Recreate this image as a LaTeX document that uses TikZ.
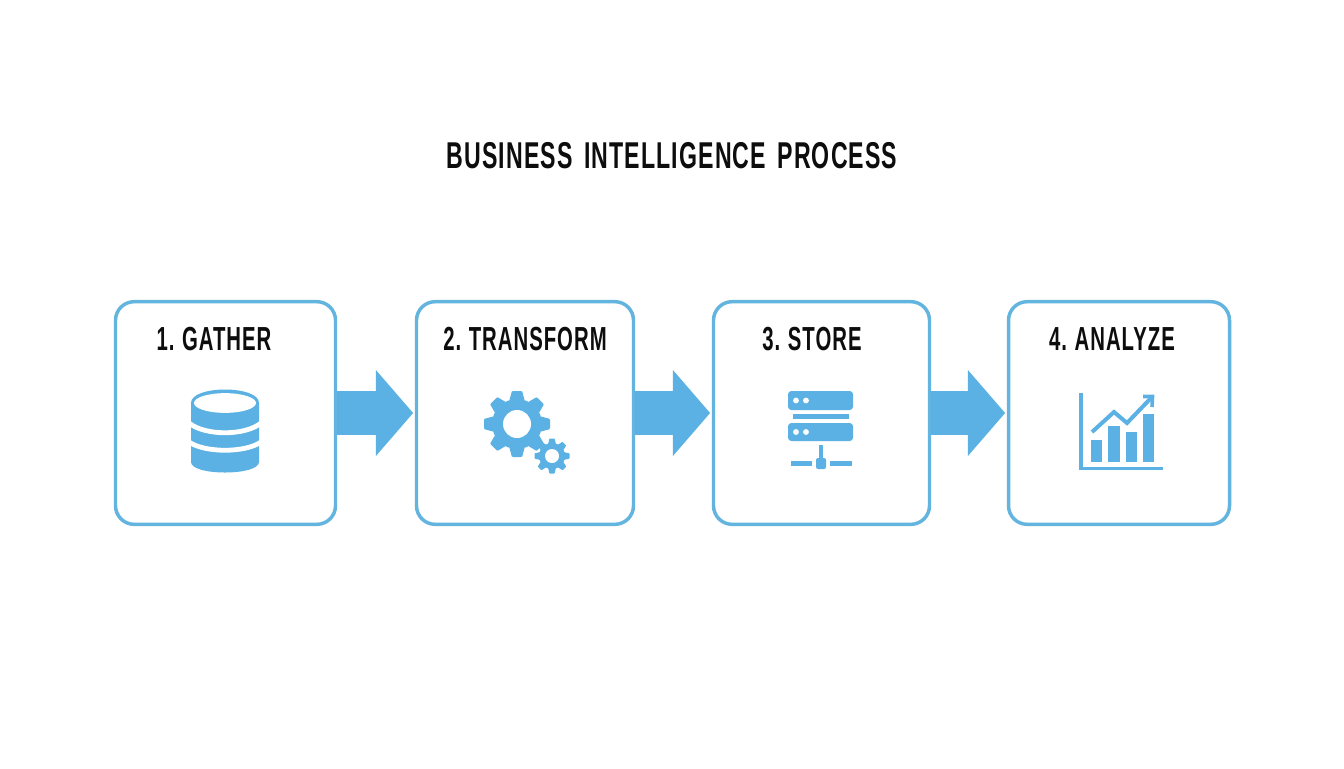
\documentclass[tikz,border=0pt]{standalone}
\usepackage{fontspec}
\usetikzlibrary{arrows.meta}
\newfontfamily\titlefont[FakeStretch=0.62,LetterSpace=3,WordSpace=1.5]{Liberation Sans Bold}
\newfontfamily\stagefont[FakeStretch=0.61,LetterSpace=3,WordSpace=0.8]{Liberation Sans Bold}
\definecolor{biblue}{HTML}{5BB1E3}
\definecolor{biline}{HTML}{63B4DF}
\definecolor{biink}{HTML}{0D0D0D}
\tikzset{
  stagebox/.style={draw=biline,line width=2.6pt,rounded corners=14pt,fill=white,minimum height=167pt,inner sep=0pt},
  stagelabel/.style={text=biink,font=\stagefont\fontsize{25}{25}\selectfont,inner sep=0pt,anchor=center},
  titlelabel/.style={text=biink,font=\titlefont\fontsize{28}{28}\selectfont,inner sep=0pt,anchor=center},
  flowarrow/.style={draw=biblue,line width=33pt,shorten >=1.2pt,-{Triangle[length=28pt,width=63pt]}},
  iconline/.style={draw=biblue,line width=2.7pt},
  trendline/.style={draw=biblue,line width=3pt},
}
\newcommand{\biggear}[5]{% cx cy outer body hole
  \foreach \a in {0,45,...,315}{
    \fill[biblue,rotate around={\a:(#1,#2)}]
      ({#1+#4-1},{#2-0.30*#4}) -- ({#1+#3-0.6},{#2-0.21*#4}) -- ({#1+#3},{#2-0.15*#4})
      -- ({#1+#3},{#2+0.15*#4}) -- ({#1+#3-0.6},{#2+0.21*#4}) -- ({#1+#4-1},{#2+0.30*#4}) -- cycle;
  }
  \fill[biblue] (#1,#2) circle[radius=#4*0.75pt];
  \fill[white] (#1,#2) circle[radius=#5*0.75pt];
}
\begin{document}
\begin{tikzpicture}[x=0.75pt,y=-0.75pt]
\useasboundingbox[fill=white] (0,0) rectangle (1344,768);
\node[titlelabel] (title) at (672,156) {BUSINESS INTELLIGENCE PROCESS};
\node[stagebox,minimum width=165pt] (b1) at (225.5,413) {};
\node[stagebox,minimum width=162.75pt] (b2) at (525,413) {};
\node[stagebox,minimum width=162pt] (b3) at (821.5,413) {};
\node[stagebox,minimum width=165.75pt] (b4) at (1119,413) {};
\draw[flowarrow] (b1.east) -- (b2.west);
\draw[flowarrow] (b2.east) -- (b3.west);
\draw[flowarrow] (b3.east) -- (b4.west);
\node[stagelabel] (l1) at (214,339) {1. GATHER};
\node[stagelabel] (l2) at (525,339) {2. TRANSFORM};
\node[stagelabel] (l3) at (812,339) {3. STORE};
\node[stagelabel] (l4) at (1112,339) {4. ANALYZE};
% database
\fill[biblue] (191,403) .. controls (191,385) and (259,385) .. (259,403) -- (259,462)
  .. controls (259,476) and (191,476) .. (191,462) -- cycle;
\fill[white] (225,403) ellipse[x radius=23.25pt,y radius=7.4pt];
\draw[white,line width=3.6pt] (189,423) .. controls (205,436) and (245,436) .. (261,423);
\draw[white,line width=3.6pt] (189,442) .. controls (205,453) and (245,453) .. (261,442);
% gears
\biggear{517}{424}{33}{25}{14}
\biggear{552}{456}{17.5}{13}{7}
% server
\fill[biblue,rounded corners=2.5pt] (788,391) rectangle (853,410);
\fill[biblue] (793,414) rectangle (849,419);
\fill[biblue,rounded corners=2.5pt] (788,423) rectangle (853,441);
\foreach \y in {400.5,432}{
  \fill[white] (796,\y) circle[radius=2.2pt];
  \fill[white] (806,\y) circle[radius=2.2pt];
}
\fill[biblue] (819,445) rectangle (823,460);
\fill[biblue,rounded corners=1.5pt] (816,458) rectangle (826,469);
\fill[biblue] (791,461) rectangle (812,465.5);
\fill[biblue] (830,461) rectangle (852,465.5);
% chart
\draw[iconline] (1081,393) -- (1081,468.5) -- (1163,468.5);
\fill[biblue] (1091,440) rectangle (1102,462);
\fill[biblue] (1108,426) rectangle (1119.5,462);
\fill[biblue] (1126,432) rectangle (1137,462);
\fill[biblue] (1143,414) rectangle (1154,462);
\draw[trendline] (1092,432) -- (1114,412) -- (1127,423) -- (1151,398);
\draw[iconline] (1143,396.5) -- (1152.5,396.5) -- (1152,407);
\end{tikzpicture}
\end{document}
